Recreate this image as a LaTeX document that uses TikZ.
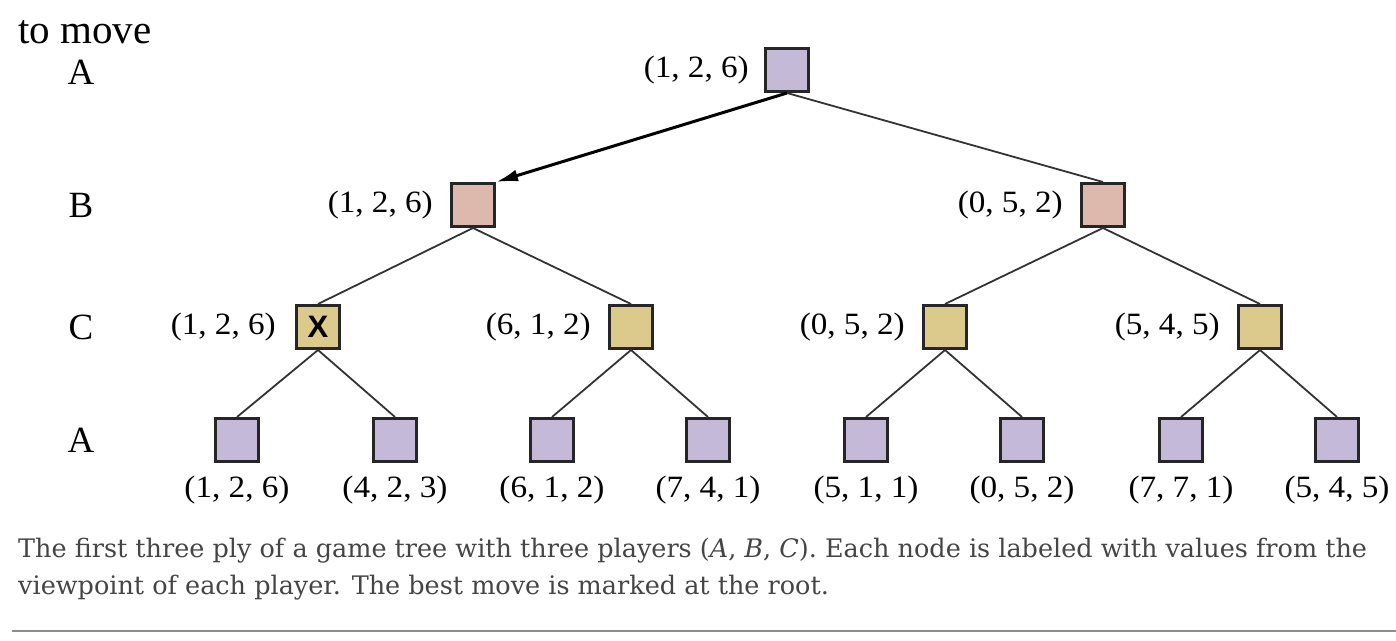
\documentclass[tikz,border=0pt]{standalone}
\usepackage{fontspec}
\setmainfont{Liberation Serif}
\newfontfamily\valfont[FakeStretch=1.07]{Liberation Serif}
\newfontfamily\capfont{DejaVu Serif}
\newfontfamily\xfont{Liberation Sans}
\usetikzlibrary{arrows.meta}
\definecolor{cA}{HTML}{C4BAD8}
\definecolor{cB}{HTML}{DDB9AD}
\definecolor{cC}{HTML}{DCCA8C}
\definecolor{edgecol}{HTML}{333333}
\definecolor{capcol}{HTML}{454545}
\begin{document}
\begin{tikzpicture}[x=1pt,y=-1pt,
  box/.style={draw=black!85, line width=3pt, minimum size=43pt, inner sep=0pt},
  aBox/.style={box, fill=cA},
  bBox/.style={box, fill=cB},
  cBox/.style={box, fill=cC},
  val/.style={font=\valfont\fontsize{31}{34}\selectfont, inner sep=0pt},
  lvl/.style={font=\fontsize{37}{40}\selectfont, inner sep=0pt},
  edge/.style={draw=edgecol, line width=1.8pt},
  best/.style={draw=black, line width=3pt, -{Latex[length=22pt,width=12pt]}},
  captext/.style={font=\capfont\fontsize{25.5}{30}\selectfont, text=capcol, inner sep=0pt, anchor=base west}]
\path[use as bounding box] (0,0) rectangle (1396,640);

% level labels
\node[font=\fontsize{41}{44}\selectfont, inner sep=0pt, anchor=base west] (tm) at (18,43) {to move};
\node[lvl] (lA1) at (81,72) {A};
\node[lvl] (lB) at (81,205) {B};
\node[lvl] (lC) at (81,327) {C};
\node[lvl] (lA2) at (81,440) {A};

% nodes
\node[aBox] (r) at (787,70) {};
\node[bBox] (b1) at (473,205) {};
\node[bBox] (b2) at (1103,205) {};
\node[cBox] (c1) at (318,327) {\xfont\bfseries\fontsize{31}{32}\selectfont X};
\node[cBox] (c2) at (631,327) {};
\node[cBox] (c3) at (945,327) {};
\node[cBox] (c4) at (1260,327) {};
\foreach \i/\x in {1/237,2/395,3/552,4/708,5/866,6/1022,7/1181,8/1337}
  \node[aBox] (a\i) at (\x,440) {};

% edges
\draw[best] (r.south) -- (b1.north east);
\draw[edge] (r.south) -- (b2.north);
\draw[edge] (b1.south) -- (c1.north);
\draw[edge] (b1.south) -- (c2.north);
\draw[edge] (b2.south) -- (c3.north);
\draw[edge] (b2.south) -- (c4.north);
\draw[edge] (c1.south) -- (a1.north);
\draw[edge] (c1.south) -- (a2.north);
\draw[edge] (c2.south) -- (a3.north);
\draw[edge] (c2.south) -- (a4.north);
\draw[edge] (c3.south) -- (a5.north);
\draw[edge] (c3.south) -- (a6.north);
\draw[edge] (c4.south) -- (a7.north);
\draw[edge] (c4.south) -- (a8.north);

% side values
\node[val, anchor=east] (vr) at ([xshift=-15pt]r.west) {(1, 2, 6)};
\node[val, anchor=east] (vb1) at ([xshift=-17pt]b1.west) {(1, 2, 6)};
\node[val, anchor=east] (vb2) at ([xshift=-17pt]b2.west) {(0, 5, 2)};
\node[val, anchor=east] (vc1) at ([xshift=-19pt]c1.west) {(1, 2, 6)};
\node[val, anchor=east] (vc2) at ([xshift=-17pt]c2.west) {(6, 1, 2)};
\node[val, anchor=east] (vc3) at ([xshift=-17pt]c3.west) {(0, 5, 2)};
\node[val, anchor=east] (vc4) at ([xshift=-17pt]c4.west) {(5, 4, 5)};

% bottom values
\foreach \i/\t in {1/{(1, 2, 6)},2/{(4, 2, 3)},3/{(6, 1, 2)},4/{(7, 4, 1)},5/{(5, 1, 1)},6/{(0, 5, 2)},7/{(7, 7, 1)},8/{(5, 4, 5)}}
  \node[val, anchor=base] (v\i) at ([yshift=-34pt]a\i.south) {\t};

% caption
\node[captext] (cap1) at (18,557) {The first three ply of a game tree with three players (\textit{A}, \textit{B}, \textit{C}). Each node is labeled with values from the};
\node[captext] (cap2) at (18,594) {viewpoint of each player. The best move is marked at the root.};
\coordinate (rl) at (12,631);
\coordinate (rr) at (1396,631);
\draw[draw=black!45, line width=2pt] (rl) -- (rr);
\end{tikzpicture}
\end{document}
